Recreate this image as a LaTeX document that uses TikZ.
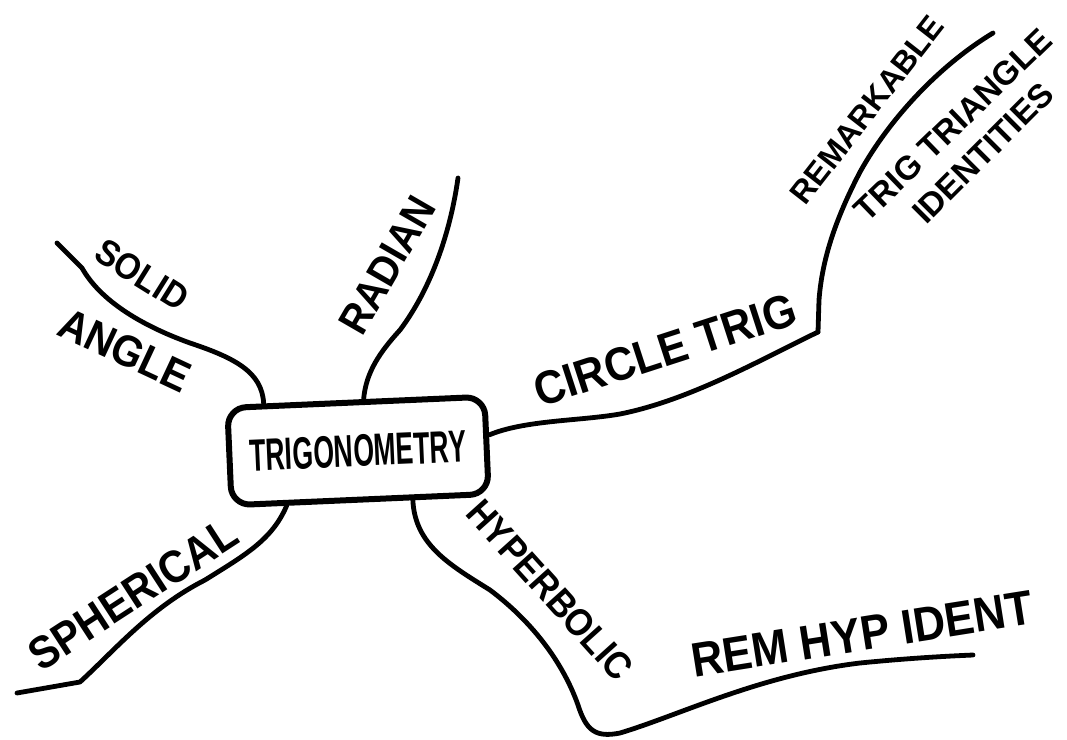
\documentclass[tikz,border=0pt]{standalone}
\usepackage{fontspec}
\usepackage{graphicx}
\setmainfont{Liberation Sans}
\usetikzlibrary{calc}
\tikzset{
  branch/.style={line width=3.6pt, line cap=round, line join=round},
  lbl/.style={inner sep=0pt, font=\fontsize{#1}{#1}\selectfont\bfseries},
  stretch/.style={yscale=1.1},
  centre/.style={draw, line width=4.5pt, rounded corners=14pt, minimum width=193pt, minimum height=73pt, inner sep=2pt}
}
\begin{document}
\begin{tikzpicture}[x=0.75pt,y=-0.75pt]
\useasboundingbox (0,0) rectangle (1067,739);
\fill[white] (0,0) rectangle (1067,739);

% central node
\node[centre, rotate=2.5, lbl=20] (trig) at (358,451) {\scalebox{1}[1.7]{TRIGONOMETRY}};

% attachment points on the box
\coordinate (saStart)  at ($(trig.north west)!0.15!(trig.north east)$);
\coordinate (radStart) at ($(trig.north west)!0.53!(trig.north east)$);
\coordinate (ctStart)  at ($(trig.north east)!0.40!(trig.south east)$);
\coordinate (sphStart) at ($(trig.south west)!0.22!(trig.south east)$);
\coordinate (hypStart) at ($(trig.south west)!0.70!(trig.south east)$);

% free ends
\coordinate (saEnd)  at (57,243);
\coordinate (radEnd) at (458,178);
\coordinate (ctBend) at (818,332);
\coordinate (remEnd) at (993,33);
\coordinate (sphEnd) at (17,693);
\coordinate (hypEnd) at (973,655);

% branches
\draw[branch] (saStart) .. controls (262,372) and (235,358) .. (190,343)
  .. controls (140,325) and (100,300) .. (82,268) -- (saEnd);
\draw[branch] (radStart) .. controls (366,372) and (380,352) .. (400,330)
  .. controls (430,290) and (450,235) .. (radEnd);
\draw[branch] (ctStart) .. controls (525,420) and (580,421) .. (620,414)
  .. controls (690,400) and (760,360) .. (ctBend);
\draw[branch] (ctBend) -- (819,300) .. controls (822,260) and (835,220) .. (860,172)
  .. controls (890,118) and (940,65) .. (remEnd);
\draw[branch] (sphStart) .. controls (272,540) and (245,555) .. (205,580)
  .. controls (150,608) and (115,650) .. (80,682) -- (sphEnd);
\draw[branch] (hypStart) .. controls (415,545) and (450,565) .. (490,590)
  .. controls (530,620) and (562,660) .. (578,705)
  .. controls (586,730) and (595,738) .. (620,733)
  .. controls (680,715) and (760,675) .. (860,663)
  .. controls (910,658) and (950,656) .. (hypEnd);

% labels
\node[lbl=25, rotate=-32, stretch] (solid) at (142,275) {SOLID};
\node[lbl=30, rotate=-25, stretch] (angle) at (125,350) {ANGLE};
\node[lbl=29, rotate=60, stretch] (radian) at (387,265) {RADIAN};
\node[lbl=32, rotate=18, stretch] (circ) at (665,350) {CIRCLE TRIG};
\node[lbl=24, rotate=52] (rem) at (867,110) {REMARKABLE};
\node[lbl=25, rotate=44] (tritri) at (953,125) {TRIG TRIANGLE};
\node[lbl=25, rotate=45] (ident) at (983,153) {IDENTITIES};
\node[lbl=31, rotate=33, stretch] (sph) at (133,594) {SPHERICAL};
\node[lbl=26, rotate=-48, stretch] (hyp) at (550,590) {HYPERBOLIC};
\node[lbl=33, rotate=9, stretch] (remhyp) at (862,634) {REM HYP IDENT};
\end{tikzpicture}
\end{document}
